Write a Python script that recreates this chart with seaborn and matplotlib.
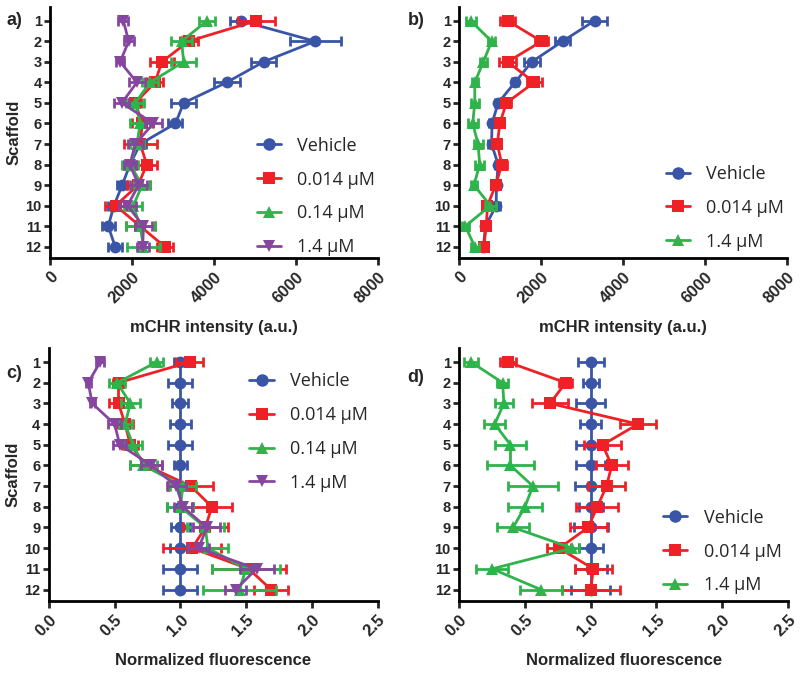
import numpy as np
import pandas as pd
import matplotlib
matplotlib.use("Agg")
import matplotlib.pyplot as plt
import seaborn as sns
from matplotlib.lines import Line2D

rows = list(range(1, 13))

# panel a) mCHR intensity, four treatments
a_vehicle = [4650, 6470, 5210, 4310, 3260, 3060, 2200, 1950, 1760, 1560, 1420, 1590]
a_vehicle_err = [250, 620, 300, 320, 300, 170, 150, 150, 120, 150, 160, 170]
a_low = [5030, 3380, 2730, 2560, 2080, 2250, 2200, 2360, 2150, 1600, 2200, 2800]
a_low_err = [450, 220, 300, 200, 150, 250, 400, 260, 280, 250, 350, 200]
a_mid = [3830, 3210, 3260, 2440, 2080, 2200, 2120, 1950, 2250, 2030, 2200, 2280]
a_mid_err = [200, 260, 300, 200, 220, 250, 180, 200, 200, 220, 350, 400]
a_high = [1790, 1920, 1710, 2120, 1750, 2520, 2080, 1950, 2160, 1890, 2280, 2260]
a_high_err = [120, 120, 100, 200, 180, 200, 180, 150, 200, 200, 200, 150]

# panel b) mCHR intensity, three treatments
b_vehicle = [3300, 2520, 1770, 1360, 950, 800, 790, 950, 910, 900, 640, 590]
b_vehicle_err = [300, 180, 200, 80, 80, 80, 80, 80, 80, 100, 60, 60]
b_low = [1180, 2010, 1180, 1830, 1150, 990, 930, 1040, 890, 690, 660, 600]
b_low_err = [180, 150, 200, 180, 120, 80, 100, 120, 100, 80, 60, 100]
b_high = [280, 790, 590, 380, 380, 330, 460, 500, 360, 760, 150, 380]
b_high_err = [120, 80, 80, 80, 100, 120, 110, 110, 80, 130, 80, 100]

# panel c) normalized fluorescence, four treatments
c_vehicle = [1.0] * 12
c_vehicle_err = [0.05, 0.09, 0.06, 0.08, 0.09, 0.05, 0.09, 0.1, 0.07, 0.08, 0.13, 0.13]
c_low = [1.07, 0.53, 0.53, 0.58, 0.62, 0.74, 1.08, 1.24, 1.19, 1.09, 1.52, 1.69]
c_low_err = [0.1, 0.04, 0.07, 0.06, 0.06, 0.12, 0.17, 0.15, 0.17, 0.22, 0.28, 0.13]
c_mid = [0.82, 0.52, 0.62, 0.58, 0.64, 0.72, 1.02, 1.0, 1.19, 1.21, 1.5, 1.45]
c_mid_err = [0.05, 0.06, 0.07, 0.05, 0.07, 0.1, 0.1, 0.1, 0.14, 0.15, 0.26, 0.28]
c_high = [0.39, 0.3, 0.33, 0.5, 0.54, 0.78, 0.97, 1.02, 1.2, 1.14, 1.58, 1.42]
c_high_err = [0.03, 0.02, 0.02, 0.05, 0.05, 0.08, 0.07, 0.07, 0.1, 0.08, 0.13, 0.08]

# panel d) normalized fluorescence, three treatments
d_vehicle = [1.0] * 12
d_vehicle_err = [0.1, 0.06, 0.11, 0.08, 0.11, 0.11, 0.12, 0.09, 0.13, 0.09, 0.12, 0.15]
d_low = [0.37, 0.81, 0.69, 1.36, 1.09, 1.16, 1.12, 1.05, 0.98, 0.76, 1.02, 1.0]
d_low_err = [0.06, 0.05, 0.14, 0.14, 0.14, 0.12, 0.14, 0.16, 0.14, 0.09, 0.14, 0.22]
d_high = [0.09, 0.33, 0.34, 0.27, 0.39, 0.39, 0.56, 0.5, 0.41, 0.86, 0.25, 0.62]
d_high_err = [0.05, 0.04, 0.07, 0.08, 0.12, 0.18, 0.19, 0.13, 0.12, 0.05, 0.12, 0.16]

int_ticks = [0, 2000, 4000, 6000, 8000]
norm_ticks = [0.0, 0.5, 1.0, 1.5, 2.0, 2.5]
norm_labels = ["0.0", "0.5", "1.0", "1.5", "2.0", "2.5"]

blue = "#3a55a6"
red = "#ee2127"
green = "#2fb34b"
purple = "#8646a0"

sns.set_theme(style="ticks")
plt.rcParams["font.family"] = ["Liberation Sans", "DejaVu Sans"]
plt.rcParams["axes.linewidth"] = 2.0
plt.rcParams["xtick.major.width"] = 2.0
plt.rcParams["ytick.major.width"] = 2.0
plt.rcParams["xtick.major.size"] = 5
plt.rcParams["ytick.major.size"] = 4

legend_font = {"family": ["Open Sans", "DejaVu Sans"], "size": 13}

fig = plt.figure(figsize=(8, 6.79), dpi=100)
ax_a = fig.add_axes([0.0625, 0.62, 0.41, 0.37])
ax_b = fig.add_axes([0.574, 0.62, 0.41, 0.37])
ax_c = fig.add_axes([0.061, 0.115, 0.411, 0.3725])
ax_d = fig.add_axes([0.574, 0.115, 0.411, 0.3725])


def draw_panel(ax, series, xmax, xticks, xticklabels, xlabel, legend_anchor):
    handles = []
    for label, vals, errs, color, marker in series:
        sns.lineplot(x=vals, y=rows, orient="y", sort=False, ax=ax,
                     color=color, marker=marker, markersize=8.5,
                     markeredgewidth=0, linewidth=2, errorbar=None)
        ax.errorbar(vals, rows, xerr=errs, fmt="none", ecolor=color,
                    elinewidth=2, capsize=3.5, capthick=2)
        handles.append(Line2D([], [], color=color, marker=marker,
                              markersize=9, markeredgewidth=0, linewidth=2,
                              label=label))
    ax.set_xlim(0, xmax)
    ax.set_ylim(12.55, 0.32)
    ax.set_xticks(xticks)
    ax.set_xticklabels(xticklabels, rotation=45, ha="right", va="top",
                       rotation_mode="anchor", fontweight="bold", fontsize=12)
    ax.set_yticks(rows)
    ax.set_yticklabels([str(r) for r in rows], fontweight="bold", fontsize=10.5)
    ax.tick_params(axis="x", pad=3)
    ax.tick_params(axis="y", pad=2)
    ax.set_xlabel(xlabel, fontweight="bold", fontsize=12, labelpad=10)
    ax.set_ylabel("")
    sns.despine(ax=ax)
    ax.spines["left"].set_color("black")
    ax.spines["bottom"].set_color("black")
    ax.legend(handles=handles, loc="center left", bbox_to_anchor=legend_anchor,
              frameon=False, handlelength=1.35, labelspacing=0.88,
              handletextpad=0.9, borderpad=0, borderaxespad=0,
              prop=legend_font)


draw_panel(ax_a, [("Vehicle", a_vehicle, a_vehicle_err, blue, "o"),
                  ("0.014 µM", a_low, a_low_err, red, "s"),
                  ("0.14 µM", a_mid, a_mid_err, green, "^"),
                  ("1.4 µM", a_high, a_high_err, purple, "v")],
           8000, int_ticks, [str(t) for t in int_ticks],
           "mCHR intensity (a.u.)", (0.63, 0.245))
draw_panel(ax_b, [("Vehicle", b_vehicle, b_vehicle_err, blue, "o"),
                  ("0.014 µM", b_low, b_low_err, red, "s"),
                  ("1.4 µM", b_high, b_high_err, green, "^")],
           8000, int_ticks, [str(t) for t in int_ticks],
           "mCHR intensity (a.u.)", (0.63, 0.2))
draw_panel(ax_c, [("Vehicle", c_vehicle, c_vehicle_err, blue, "o"),
                  ("0.014 µM", c_low, c_low_err, red, "s"),
                  ("0.14 µM", c_mid, c_mid_err, green, "^"),
                  ("1.4 µM", c_high, c_high_err, purple, "v")],
           2.5, norm_ticks, norm_labels, "Normalized fluorescence", (0.61, 0.668))
draw_panel(ax_d, [("Vehicle", d_vehicle, d_vehicle_err, blue, "o"),
                  ("0.014 µM", d_low, d_low_err, red, "s"),
                  ("1.4 µM", d_high, d_high_err, green, "^")],
           2.5, norm_ticks, norm_labels, "Normalized fluorescence", (0.62, 0.195))

ax_a.set_ylabel("Scaffold", fontweight="bold", fontsize=12, labelpad=3)
ax_c.set_ylabel("Scaffold", fontweight="bold", fontsize=12, labelpad=3)

for x, y, s in [(0.008, 0.963, "a)"), (0.51, 0.963, "b)"),
                (0.008, 0.443, "c)"), (0.509, 0.438, "d)")]:
    fig.text(x, y, s, fontweight="bold", fontsize=13)

fig.savefig("out.png", dpi=100)
